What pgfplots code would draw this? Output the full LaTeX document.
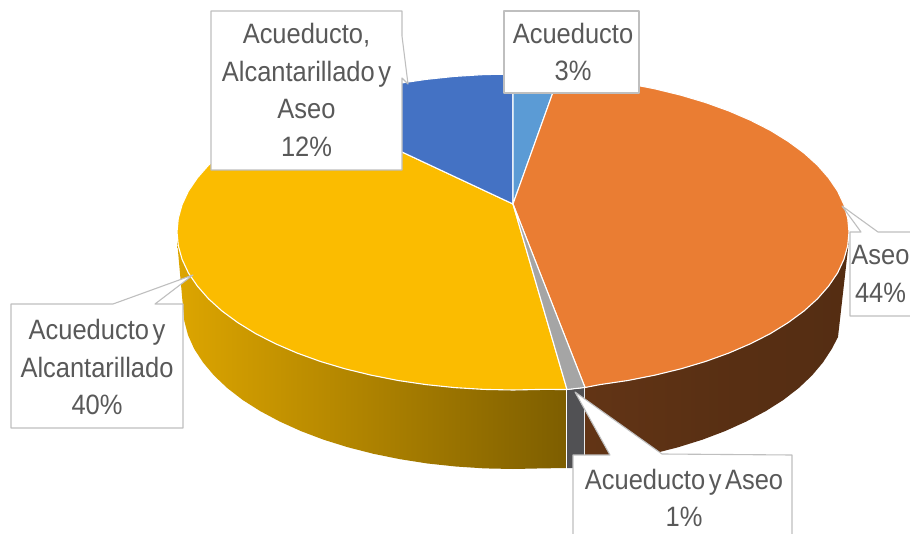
\documentclass[border=0pt]{standalone}
\usepackage{pgfplots}
\pgfplotsset{compat=1.18}
\usepackage{fontspec}
\setmainfont[FakeStretch=0.91,WordSpace=0.5]{Liberation Sans}
\definecolor{cblue}{HTML}{4472C4}
\definecolor{clight}{HTML}{5B9BD5}
\definecolor{corange}{HTML}{EA7D33}
\definecolor{cyellow}{HTML}{FBBC00}
\definecolor{cgray}{HTML}{A5A5A5}
\definecolor{cwall}{HTML}{515154}
\definecolor{ctext}{HTML}{595959}
\definecolor{cline}{HTML}{BFBFBF}
\tikzset{lbl/.style={font=\fontsize{28}{37.7}\selectfont,text=ctext,align=center,inner sep=0pt}}
\begin{document}
\begin{tikzpicture}
\path[use as bounding box, clip] (0,0) rectangle (910pt,534pt);
\begin{axis}[at={(0,0)},anchor=south west,scale only axis,width=910pt,height=534pt,
  xmin=0,xmax=910,ymin=0,ymax=534,y dir=reverse,hide axis,clip=false,
  line join=round]
% walls
\addplot[draw=none,left color=cyellow!88!black,right color=cyellow!50!black,middle color=cyellow!69!black,shading=axis] coordinates {
(177,240)(178.3,245.8)(182.1,259.4)(188.4,272.9)(197.3,286)(208.5,298.8)(222,311)(237.8,322.6)(255.6,333.6)(275.4,343.7)(297,353)(320.2,361.4)(345,368.8)(370.9,375.1)(398.1,380.5)(426,384.6)(454.6,387.6)(483.7,389.4)(513,390)(566,389.5)
(566,468)(541.7,468.4)(513,469)(484.3,468.4)(455.7,466.5)(427.5,463.5)(400.1,459.2)(373.4,453.8)(348,447.3)(323.6,439.7)(300.9,431.1)(279.7,421.5)(260.2,411.1)(242.7,400)(227.2,388)(214,375.5)(203,362.4)(194.2,348.9)(188,335.1)(184.3,321)(183,307)} --cycle;
\addplot[draw=none,fill=cwall] coordinates {(567,390)(584,388)(584,468)(567,468)} --cycle;
\addplot[draw=none,left color=corange!42!black,right color=corange!36!black,shading=axis,middle color=corange!38!black] coordinates {
(585,387.5)(600,384.6)(627.9,380.5)(655.1,375.1)(681,368.8)(705.8,361.4)(729,353)(750.6,343.7)(770.4,333.6)(788.2,322.6)(804,311)(817.5,298.8)(828.7,286)(837.6,272.9)(843.9,259.4)(847.7,245.8)(849,240)
(838,337)(831.8,348.9)(823,362.4)(812,375.5)(798.8,388)(783.3,400)(765.8,411.1)(746.3,421.5)(725.1,431.1)(702.4,439.7)(678,447.3)(652.6,453.8)(625.9,459.2)(598.5,463.5)(585,466)} --cycle;
% top
\addplot[draw=white,line width=1.1pt,fill=cyellow] coordinates {
(513,204)(567,389.5)(542.3,389.4)(513,390)(483.7,389.4)(454.6,387.6)(426,384.6)(398.1,380.5)(370.9,375.1)(345,368.8)(320.2,361.4)(297,353)(275.4,343.7)(255.6,333.6)(237.8,322.6)(222,311)(208.5,298.8)(197.3,286)(188.4,272.9)(182.1,259.4)(178.3,245.8)(177,232)(178.3,218.2)(182.1,204.6)(188.4,191.1)(197.3,178)(208.5,165.2)(222,153)(237.8,141.4)(255.6,130.4)(275.4,120.3)(297,111)(307,107.5)} --cycle;
\addplot[draw=white,line width=1.1pt,fill=cblue] coordinates {
(513,204)(307,107.5)(320.2,102.6)(345,95.2)(370.9,88.9)(398.1,83.5)(426,79.4)(454.6,76.4)(483.7,74.6)(513,74)} --cycle;
\addplot[draw=white,line width=1.1pt,fill=clight] coordinates {
(513,204)(513,74)(542.3,74.6)(559,75.4)} --cycle;
\addplot[draw=white,line width=1.1pt,fill=corange] coordinates {
(513,204)(559,75.4)(571.4,76.4)(600,79.4)(627.9,83.5)(655.1,88.9)(681,95.2)(705.8,102.6)(729,111)(750.6,120.3)(770.4,130.4)(788.2,141.4)(804,153)(817.5,165.2)(828.7,178)(837.6,191.1)(843.9,204.6)(847.7,218.2)(849,232)(847.7,245.8)(843.9,259.4)(837.6,272.9)(828.7,286)(817.5,298.8)(804,311)(788.2,322.6)(770.4,333.6)(750.6,343.7)(729,353)(705.8,361.4)(681,368.8)(655.1,375.1)(627.9,380.5)(600,384.6)(585,387.5)} --cycle;
\addplot[draw=white,line width=1.1pt,fill=cgray] coordinates {
(513,204)(585,387.5)(567,389.5)} --cycle;
% callouts
\addplot[draw=cline,line width=1.1pt,fill=white] coordinates {
(211,11)(402,11)(402,36)(408,84)(402,78)(402,170)(211,170)} --cycle;
\addplot[draw=cline,line width=1.1pt,fill=white] coordinates {
(504,11)(639,11)(639,93)(504,93)} --cycle;
\addplot[draw=cline,line width=1.1pt,fill=white] coordinates {
(11,304)(113,304)(193,275)(155,304)(183,304)(183,428)(11,428)} --cycle;
\addplot[draw=cline,line width=1.1pt,fill=white] coordinates {
(850,232)(861,232)(842,206)(878,232)(930,232)(930,316)(850,316)} --cycle;
\addplot[draw=cline,line width=1.1pt,fill=white] coordinates {
(573,455)(610,455)(575,392)(662,454)(792,455)(792,550)(573,550)} --cycle;
% text
\node[lbl] at (axis cs:306.5,90) {Acueducto,\\Alcantarillado y\\Aseo\\12\%};
\node[lbl] at (axis cs:573,52) {Acueducto\\3\%};
\node[lbl] at (axis cs:97,367) {Acueducto y\\Alcantarillado\\40\%};
\node[lbl] at (axis cs:880.5,274) {Aseo\\44\%};
\node[lbl] at (axis cs:684,498) {Acueducto y Aseo\\1\%};
\end{axis}
\end{tikzpicture}
\end{document}
